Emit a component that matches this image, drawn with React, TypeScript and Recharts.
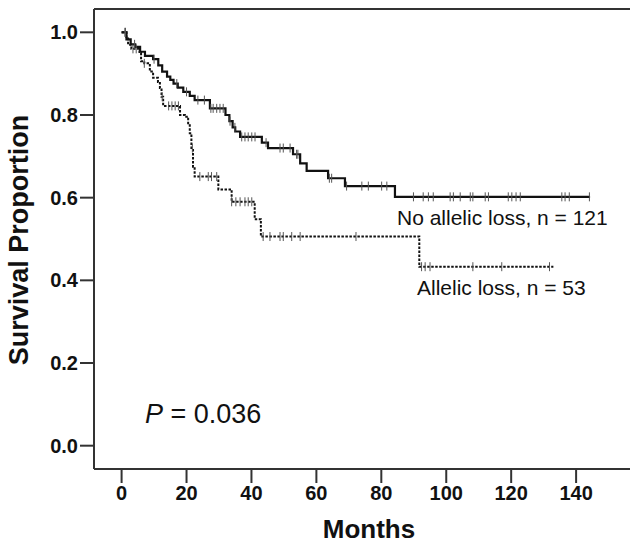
import { ComposedChart, Line, ReferenceLine, Scatter, XAxis, YAxis } from "recharts";

// Kaplan-Meier steps (month where each level starts)
const noLossTimes = [0, 1.5, 2.8, 4.2, 5.7, 7.2, 9.7, 11.3, 12.5, 14, 15, 16, 17.3, 19, 21, 22.5, 27.2, 32, 33.2, 34.2, 35, 36.5, 43.2, 45.1, 52.8, 55, 57, 63.6, 68.8, 84.2, 144.3];
const noLossSurv = [1.0, 0.983, 0.971, 0.965, 0.953, 0.943, 0.935, 0.92, 0.905, 0.893, 0.885, 0.876, 0.866, 0.856, 0.846, 0.836, 0.816, 0.8, 0.785, 0.77, 0.76, 0.747, 0.733, 0.72, 0.705, 0.683, 0.665, 0.647, 0.628, 0.602, 0.602];
const noLossCensored = [1.0, 4, 10, 17, 20, 23.5, 25.5, 27.5, 28.2, 29.3, 30.3, 31.3, 33.4, 34.9, 37, 38, 39, 40.1, 41.1, 44.5, 48.8, 49.8, 51.9, 53.9, 54.3, 64.0, 64.7, 69.3, 74.0, 76.0, 80.1, 81.7, 89.9, 92.9, 94.5, 96.0, 101.2, 102.2, 104.3, 107.4, 108.2, 112.0, 113.0, 119.1, 120.2, 121.5, 122.8, 135.6, 136.6, 137.9, 144.1];

const lossTimes = [0, 1.5, 2, 3, 5.5, 6, 7, 8.7, 9.7, 11.2, 11.8, 12.3, 12.8, 18, 19.5, 20.5, 21, 21.5, 22, 22.5, 29.8, 33.9, 41, 42.9, 91.7, 133];
const lossSurv = [1.0, 0.985, 0.97, 0.96, 0.95, 0.93, 0.925, 0.905, 0.89, 0.88, 0.865, 0.844, 0.822, 0.8, 0.796, 0.78, 0.756, 0.72, 0.675, 0.651, 0.62, 0.59, 0.548, 0.506, 0.433, 0.433];
const lossCensored = [1.2, 3.5, 4.5, 7, 12.5, 14.5, 15.5, 16.5, 17.5, 21.8, 24.1, 26.7, 27.7, 29.3, 33.9, 35.2, 36.5, 38.0, 39.0, 40.1, 43.6, 45.7, 48.8, 49.8, 52.4, 55.0, 72.2, 92.4, 93.5, 95.0, 108.2, 117.1, 131.8];

const monthTicks = [0, 20, 40, 60, 80, 100, 120, 140];
const survTicks = [0, 0.2, 0.4, 0.6, 0.8, 1.0];

const xDomain: [number, number] = [-8.5, 156.6];
const yDomain: [number, number] = [-0.0564, 1.0564];

const toSteps = (times: number[], surv: number[]) =>
  times.map((t, i) => ({ month: t, surv: surv[i] }));

const survAt = (times: number[], surv: number[], t: number) => {
  let v = surv[0];
  for (let i = 0; i < times.length; i++) if (times[i] <= t) v = surv[i];
  return v;
};

const toMarks = (cens: number[], times: number[], surv: number[]) =>
  cens.map((t) => ({ month: t, surv: survAt(times, surv, t) }));

const CensorMark = (props: any) => {
  const { cx, cy } = props;
  if (cx == null || cy == null) return null;
  return <line x1={cx} y1={cy - 4.5} x2={cx} y2={cy + 4.5} stroke="#555" strokeWidth={1} />;
};

const font = "'Liberation Sans', Arial, sans-serif";

export default function App() {
  const noLoss = toSteps(noLossTimes, noLossSurv);
  const loss = toSteps(lossTimes, lossSurv);
  const noLossMarks = toMarks(noLossCensored, noLossTimes, noLossSurv);
  const lossMarks = toMarks(lossCensored, lossTimes, lossSurv);
  const tickStyle = { fontSize: 20, fontWeight: 700, fill: "#111", fontFamily: font };

  return (
    <div style={{ position: "absolute", left: 0, top: 0, width: 630, height: 543, background: "#fff" }}>
      <ComposedChart width={630} height={543} margin={{ top: 9, right: 0, left: 0, bottom: 0 }}>
        <XAxis
          dataKey="month"
          type="number"
          domain={xDomain}
          allowDataOverflow
          ticks={monthTicks}
          height={74}
          tickSize={14}
          tickMargin={3}
          tick={tickStyle}
          axisLine={{ stroke: "#333", strokeWidth: 2 }}
          tickLine={{ stroke: "#333", strokeWidth: 2 }}
        />
        <YAxis
          dataKey="surv"
          type="number"
          domain={yDomain}
          allowDataOverflow
          ticks={survTicks}
          tickFormatter={(v: number) => v.toFixed(1)}
          width={94}
          tickSize={14}
          tickMargin={2}
          tick={tickStyle}
          axisLine={{ stroke: "#333", strokeWidth: 2 }}
          tickLine={{ stroke: "#333", strokeWidth: 2 }}
        />
        <ReferenceLine y={yDomain[1]} stroke="#333" strokeWidth={2} />
        <Line
          data={noLoss}
          dataKey="surv"
          type="stepAfter"
          stroke="#111"
          strokeWidth={2.2}
          dot={false}
          isAnimationActive={false}
        />
        <Line
          data={loss}
          dataKey="surv"
          type="stepAfter"
          stroke="#111"
          strokeWidth={2}
          strokeDasharray="2.5 1.5"
          dot={false}
          isAnimationActive={false}
        />
        <Scatter data={noLossMarks} dataKey="surv" shape={<CensorMark />} isAnimationActive={false} />
        <Scatter data={lossMarks} dataKey="surv" shape={<CensorMark />} isAnimationActive={false} />
      </ComposedChart>
      <svg width={630} height={543} style={{ position: "absolute", left: 0, top: 0, pointerEvents: "none" }}>
        <text x={369} y={538} textAnchor="middle" fontFamily={font} fontWeight={700} fontSize={26} fill="#111">
          Months
        </text>
        <text
          x={28}
          y={240}
          textAnchor="middle"
          transform="rotate(-90 28 240)"
          fontFamily={font}
          fontWeight={700}
          fontSize={27}
          fill="#111"
        >
          Survival Proportion
        </text>
        <text x={397} y={225} fontFamily={font} fontSize={21} fill="#111">
          No allelic loss, n = 121
        </text>
        <text x={417} y={295} fontFamily={font} fontSize={21} fill="#111">
          Allelic loss, n = 53
        </text>
        <text x={145} y={423} fontFamily={font} fontSize={27} fill="#111">
          <tspan fontStyle="italic">P</tspan> = 0.036
        </text>
      </svg>
    </div>
  );
}
